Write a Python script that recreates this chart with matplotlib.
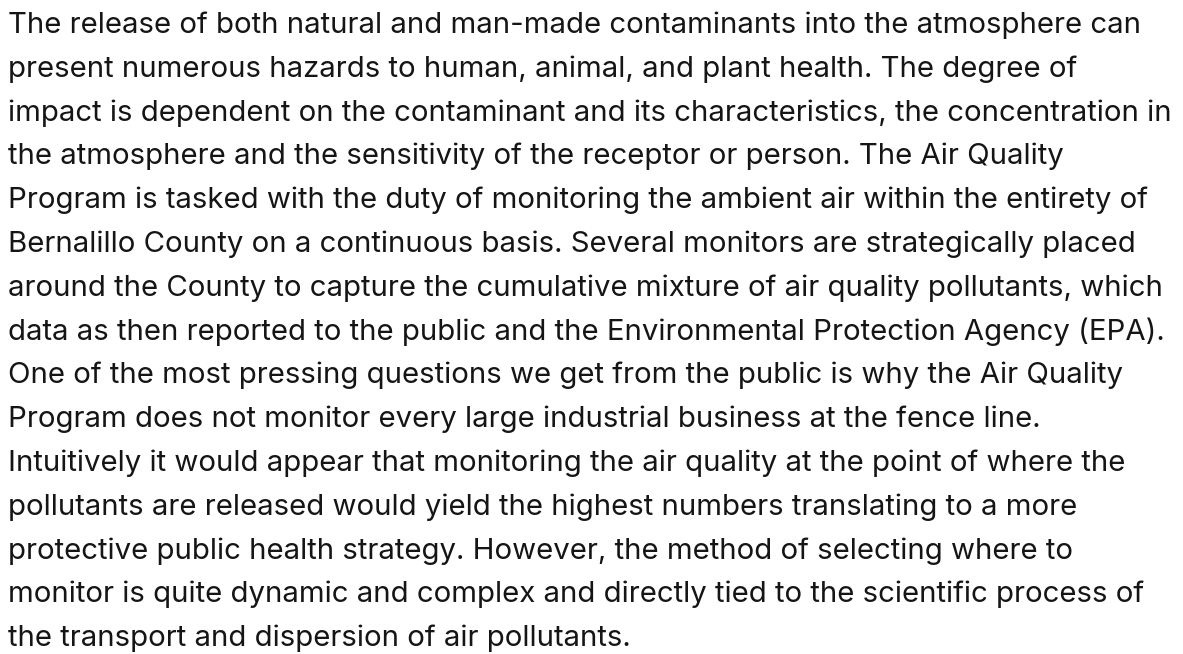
import matplotlib
matplotlib.use("Agg")
import matplotlib.pyplot as plt

# paragraph, one entry per rendered line
LINES = [
    "The release of both natural and man-made contaminants into the atmosphere can",
    "present numerous hazards to human, animal, and plant health. The degree of",
    "impact is dependent on the contaminant and its characteristics, the concentration in",
    "the atmosphere and the sensitivity of the receptor or person. The Air Quality",
    "Program is tasked with the duty of monitoring the ambient air within the entirety of",
    "Bernalillo County on a continuous basis. Several monitors are strategically placed",
    "around the County to capture the cumulative mixture of air quality pollutants, which",
    "data as then reported to the public and the Environmental Protection Agency (EPA).",
    "One of the most pressing questions we get from the public is why the Air Quality",
    "Program does not monitor every large industrial business at the fence line.",
    "Intuitively it would appear that monitoring the air quality at the point of where the",
    "pollutants are released would yield the highest numbers translating to a more",
    "protective public health strategy. However, the method of selecting where to",
    "monitor is quite dynamic and complex and directly tied to the scientific process of",
    "the transport and dispersion of air pollutants.",
]

W, H = 1183, 654
FIRST_BASELINE = 33.0   # px from top
LINE_STEP = 43.8        # px between baselines
LEFT = 8                # px
TEXT_COLOR = "#151515"

fig = plt.figure(figsize=(W / 100, H / 100), dpi=100)
fig.patch.set_facecolor("white")

for i, line in enumerate(LINES):
    y = FIRST_BASELINE + i * LINE_STEP
    fig.text(LEFT / W, 1 - y / H, line, fontsize=21.15, family="Inter",
             color=TEXT_COLOR, ha="left", va="baseline")

fig.savefig("out.png", dpi=100, facecolor="white")
